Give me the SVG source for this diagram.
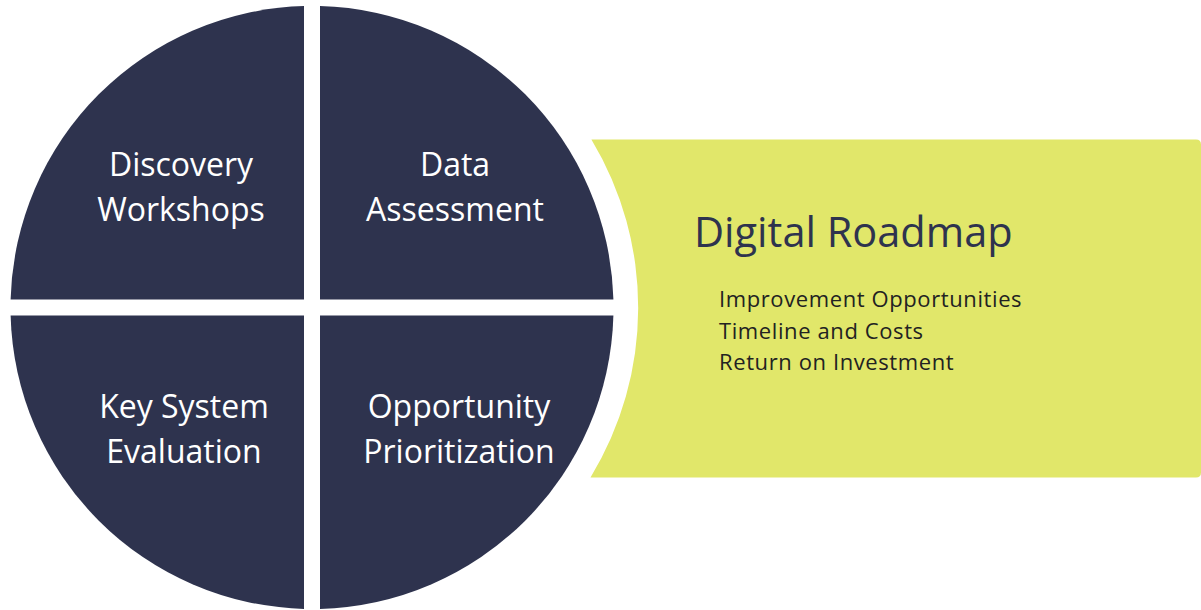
<svg xmlns="http://www.w3.org/2000/svg" width="1201" height="610" viewBox="0 0 1201 610">
<style>
.q{fill:#2E334E}
.qt{font-family:"Open Sans","Liberation Sans",sans-serif;font-size:32px;fill:#FFFFFF;text-anchor:middle}
.title{font-family:"Open Sans","Liberation Sans",sans-serif;font-size:41.5px;fill:#2E334E}
.item{font-family:"Open Sans","Liberation Sans",sans-serif;font-size:22px;letter-spacing:0.6px;fill:#222222}
</style>
<rect width="1201" height="610" fill="#FFFFFF"/>
<g id="roadmap">
<path d="M591.4,139.5 L1196,139.5 Q1201,139.5 1201,144.5 L1201,472.5 Q1201,477.5 1196,477.5 L590.5,477.5 A326 326 0 0 0 591.4,139.5 Z" fill="#E1E76A"/>
<text class="title" x="694" y="247">Digital Roadmap</text>
<text class="item" x="719" y="307">Improvement Opportunities</text>
<text class="item" x="719" y="339">Timeline and Costs</text>
<text class="item" x="719" y="370">Return on Investment</text>
</g>
<g id="discovery">
<path class="q" d="M304,6.11 L304,299.5 L10.61,299.5 A301.5 301.5 0 0 1 304,6.11 Z"/>
<text class="qt" x="181" y="176">Discovery</text>
<text class="qt" x="181" y="221">Workshops</text>
</g>
<g id="data">
<path class="q" d="M320,6.11 A301.5 301.5 0 0 1 613.39,299.5 L320,299.5 Z"/>
<text class="qt" x="455" y="176">Data</text>
<text class="qt" x="455" y="221">Assessment</text>
</g>
<g id="opportunity">
<path class="q" d="M613.39,315.5 A301.5 301.5 0 0 1 320,608.89 L320,315.5 Z"/>
<text class="qt" x="459" y="418">Opportunity</text>
<text class="qt" x="459" y="463">Prioritization</text>
</g>
<g id="keysystem">
<path class="q" d="M304,608.89 A301.5 301.5 0 0 1 10.61,315.5 L304,315.5 Z"/>
<text class="qt" x="184" y="418">Key System</text>
<text class="qt" x="184" y="463">Evaluation</text>
</g>
<g id="connectors"></g>
</svg>
